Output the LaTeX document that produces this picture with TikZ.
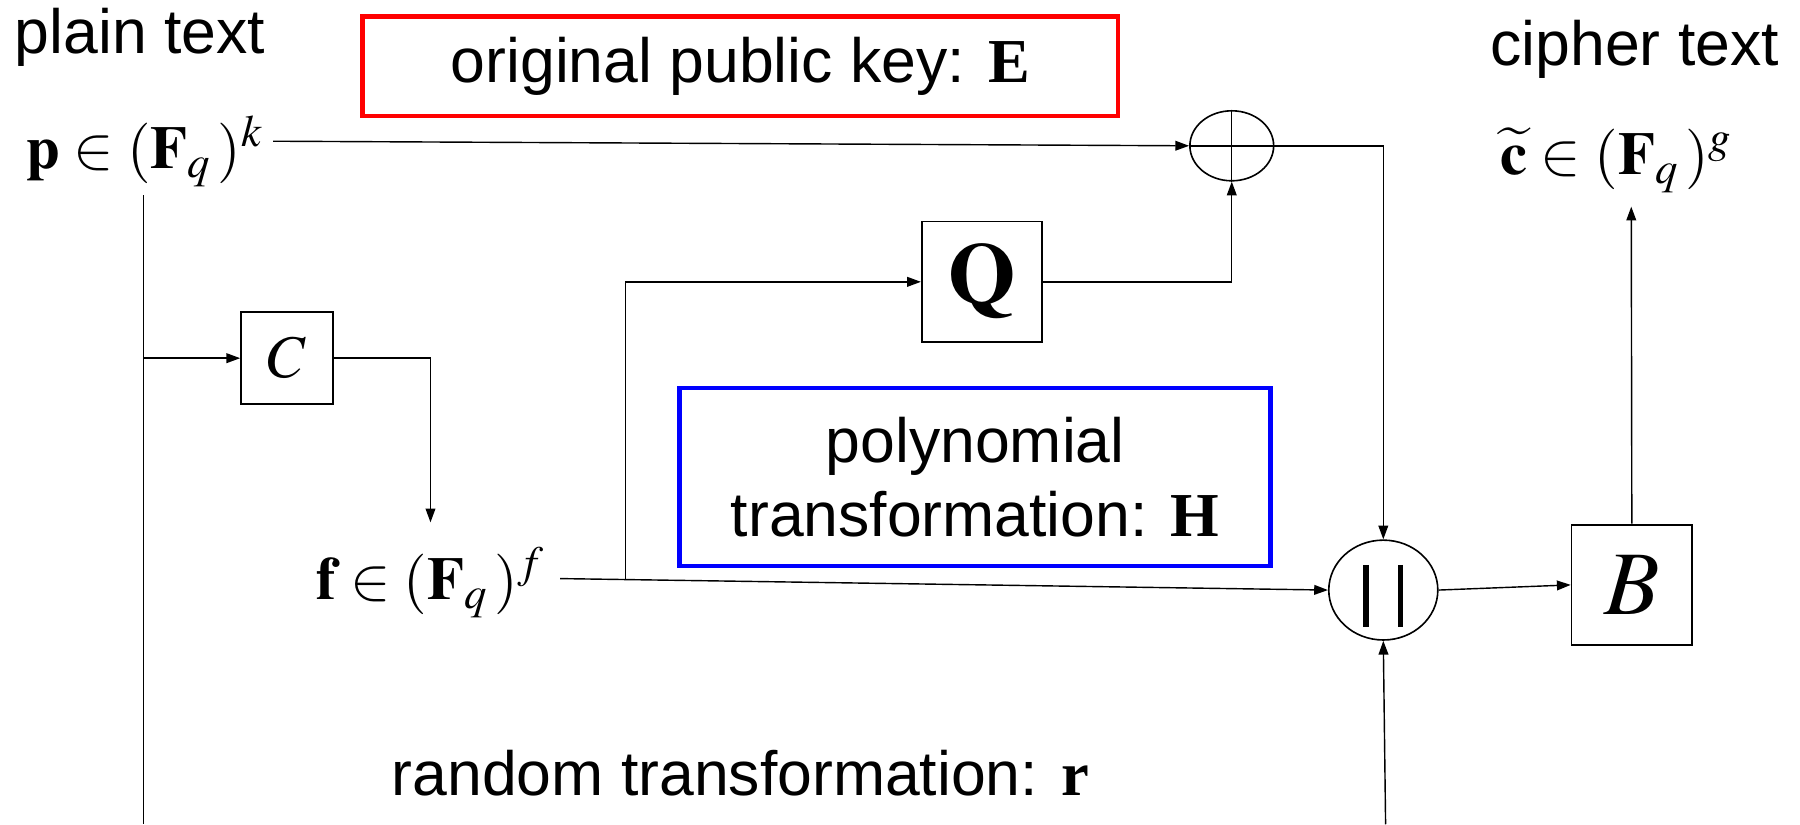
\documentclass[tikz,border=0pt]{standalone}
\usepackage{mathptmx}
\usepackage{fontspec}
\setmainfont{Liberation Serif}
\setsansfont{Liberation Sans}
\usetikzlibrary{shapes.geometric,arrows.meta}
\begin{document}
\begin{tikzpicture}[x=0.02cm,y=-0.02cm,
  font=\sffamily\fontsize{31}{36.4}\selectfont,
  line width=0.7pt,
  arr/.style={-{Triangle[length=0.24cm,width=0.17cm]}},
  blk/.style={draw,line width=0.9pt,minimum width=#1,minimum height=#1,inner sep=0pt},
  frm/.style={anchor=base,inner sep=0pt,font=\fontsize{30}{36}\selectfont},
  lbl/.style={anchor=base,inner sep=0pt},
  oval/.style={ellipse,draw,line width=0.8pt,inner sep=0pt},
  hl/.style={draw=#1,line width=2.4pt,inner sep=0pt,align=center}
]
\useasboundingbox (0,0) rectangle (1568,718);

% labels
\node[lbl] (plain) at (122,47) {plain text};
\node[lbl] (cipher) at (1424,57) {cipher text};
\node[lbl] (rt) at (645,693) {random transformation: {\rmfamily\bfseries r}};
\node[hl=red,minimum width=13.16cm,minimum height=1.74cm] (Ebox) at (645,57.5)
  {original public key: {\rmfamily\bfseries E}};
\node[hl=blue,minimum width=10.3cm,minimum height=3.1cm] (Hbox) at (849.5,415.5)
  {polynomial\\transformation: {\rmfamily\bfseries H}};

% formulas
\node[frm] (p) at (126,147) {$\mathbf{p}\in(\mathbf{F}_q\,)^k$};
\node[frm] (f) at (375,522) {$\mathbf{f}\in(\mathbf{F}_q\,)^f$};
\node[frm] (c) at (1408,152) {$\widetilde{\mathbf{c}}\in(\mathbf{F}_q\,)^g$};

% blocks
\node[blk=1.6cm,font=\fontsize{30}{36}\selectfont] (C) at (250,312) {$C$};
\node[blk=2.1cm,font=\fontsize{43}{50}\selectfont] (Q) at (855.5,245.5) {$\mathbf{Q}$};
\node[blk=2.1cm,font=\fontsize{45}{52}\selectfont] (B) at (1421.5,509.5) {$B$};
\node[oval,minimum width=1.46cm,minimum height=1.22cm] (plus) at (1073,127) {};
\node[oval,minimum width=1.9cm,minimum height=1.74cm] (cat) at (1205,514) {};
\draw (plus.north) -- (plus.south) (plus.west) -- (plus.east);
\draw[line width=2.8pt] (cat.center) ++(-15,-22) -- ++(0,54);
\draw[line width=2.8pt] (cat.center) ++(15,-22) -- ++(0,54);

% free ends
\coordinate (pout) at (238,123);
\coordinate (ptop) at (125,170);
\coordinate (pbot) at (125,718);
\coordinate (fin) at (375,455);
\coordinate (fout) at (488,504);
\coordinate (fbr) at (545,505);
\coordinate (rin) at (1207,718);
\coordinate (cin) at (1421,180);

% connectors
\draw[arr] (pout) -- (plus.west);
\draw[arr] (plus.east) -| (cat.north);
\draw (ptop) -- (pbot);
\draw[arr] (ptop |- C.west) -- (C.west);
\draw[arr] (C.east) -| (fin);
\draw[arr] (fout) -- (cat.west);
\draw[arr] (fbr) |- (Q.west);
\draw[arr] (Q.east) -| (plus.south);
\draw[arr] (cat.east) -- (B.west);
\draw[arr] (B.north) -- (cin);
\draw[arr] (rin) -- (cat.south);
\end{tikzpicture}
\end{document}
